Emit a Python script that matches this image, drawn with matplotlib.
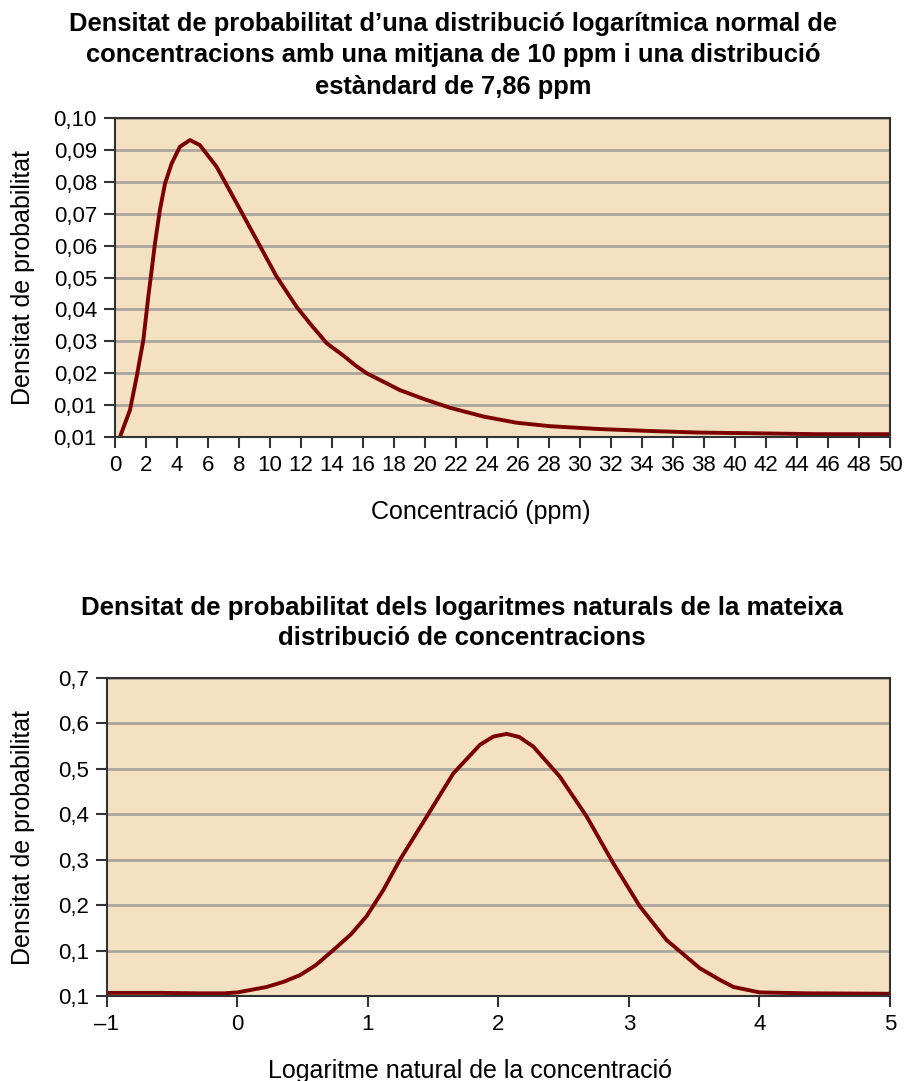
import matplotlib
matplotlib.use("Agg")
import matplotlib.pyplot as plt

plt.rcParams['font.family'] = ['Liberation Sans', 'DejaVu Sans']

# corba lognormal (ppm)
conc_x = [0.32, 0.97, 1.4, 1.83, 2.15, 2.37, 2.58, 2.9, 3.23, 3.66, 4.19, 4.84, 5.48, 6.56,
          7.85, 9.14, 10.43, 11.72, 12.58, 13.0, 13.66, 14.8, 15.5, 16.24, 18.39, 20.0,
          21.6, 23.8, 25.9, 28.06, 31.3, 34.5, 37.7, 41.0, 45.3, 50.0]
conc_y = [0.0, 0.0085, 0.0189, 0.0304, 0.044, 0.0524, 0.0607, 0.0712, 0.0795, 0.0858,
          0.091, 0.0931, 0.0915, 0.0847, 0.0733, 0.0618, 0.0503, 0.0408, 0.0356, 0.0332,
          0.0294, 0.0253, 0.0225, 0.0200, 0.0147, 0.0118, 0.0092, 0.0064, 0.0045, 0.0034,
          0.0025, 0.0019, 0.0014, 0.0012, 0.0009, 0.0009]

# corba dels logaritmes
ln_x = [-1.0, -0.6, -0.3, -0.1, 0.0, 0.224, 0.35, 0.479, 0.6, 0.734, 0.87, 0.99, 1.117,
        1.245, 1.45, 1.654, 1.858, 1.96, 2.063, 2.16, 2.267, 2.47, 2.676, 2.88, 3.084,
        3.289, 3.544, 3.7, 3.8, 4.0, 4.36, 5.0]
ln_y = [0.007, 0.007, 0.006, 0.006, 0.008, 0.02, 0.031, 0.046, 0.068, 0.101, 0.136, 0.176,
        0.233, 0.30, 0.395, 0.49, 0.553, 0.571, 0.577, 0.570, 0.549, 0.483, 0.395, 0.292,
        0.197, 0.123, 0.061, 0.035, 0.02, 0.008, 0.006, 0.005]

top_yticks = [0, 0.01, 0.02, 0.03, 0.04, 0.05, 0.06, 0.07, 0.08, 0.09, 0.10]
top_ylabels = ['0,01', '0,01', '0,02', '0,03', '0,04', '0,05', '0,06', '0,07', '0,08', '0,09', '0,10']
top_xticks = list(range(0, 51, 2))
bot_yticks = [0, 0.1, 0.2, 0.3, 0.4, 0.5, 0.6, 0.7]
bot_ylabels = ['0,1', '0,1', '0,2', '0,3', '0,4', '0,5', '0,6', '0,7']
bot_xticks = [-1, 0, 1, 2, 3, 4, 5]
bot_xlabels = ['\u20131', '0', '1', '2', '3', '4', '5']

bg = '#f3e1c1'
linecol = '#7d0000'
gridcol = '#a9a59d'

fig = plt.figure(figsize=(9.06, 10.81), dpi=100)

fig.text(0.5, 0.9893, "Densitat de probabilitat d\u2019una distribució logarítmica normal de\n"
         "concentracions amb una mitjana de 10 ppm i una distribució\nestàndard de 7,86 ppm",
         ha='center', va='top', fontsize=18.4, fontweight='bold', linespacing=1.4)
fig.text(0.51, 0.4485, "Densitat de probabilitat dels logaritmes naturals de la mateixa\n"
         "distribució de concentracions",
         ha='center', va='top', fontsize=18.6, fontweight='bold', linespacing=1.3)

ax1 = fig.add_axes([0.1269, 0.5957, 0.8554, 0.2951])
ax2 = fig.add_axes([0.1181, 0.0786, 0.8642, 0.2942])

for ax in (ax1, ax2):
    ax.set_facecolor(bg)
    for s in ax.spines.values():
        s.set_color('#333333')
        s.set_linewidth(1.5)
    ax.tick_params(direction='out', length=8, width=1.5, color='#333333', labelsize=16, pad=5)
    ax.set_axisbelow(True)
    ax.grid(axis='y', color=gridcol, linewidth=2)

ax1.plot(conc_x, conc_y, color=linecol, linewidth=2.8, solid_joinstyle='round')
ax1.set_xlim(0, 50)
ax1.set_ylim(0, 0.10)
ax1.set_xticks(top_xticks)
ax1.set_xticklabels([str(t) for t in top_xticks])
ax1.set_yticks(top_yticks)
ax1.set_yticklabels(top_ylabels)
ax1.set_xlabel('Concentració (ppm)', fontsize=18)
ax1.set_ylabel('Densitat de probabilitat', fontsize=18)
ax1.xaxis.set_label_coords(0.472, -0.196)
ax1.yaxis.set_label_coords(-0.103, 0.5)

ax2.plot(ln_x, ln_y, color=linecol, linewidth=2.8, solid_joinstyle='round')
ax2.set_xlim(-1, 5)
ax2.set_ylim(0, 0.7)
ax2.set_xticks(bot_xticks)
ax2.set_xticklabels(bot_xlabels)
ax2.set_yticks(bot_yticks)
ax2.set_yticklabels(bot_ylabels)
ax2.set_xlabel('Logaritme natural de la concentració', fontsize=18)
ax2.set_ylabel('Densitat de probabilitat', fontsize=18)
ax2.xaxis.set_label_coords(0.464, -0.197)
ax2.yaxis.set_label_coords(-0.092, 0.5)

fig.savefig('out.png', dpi=100)
